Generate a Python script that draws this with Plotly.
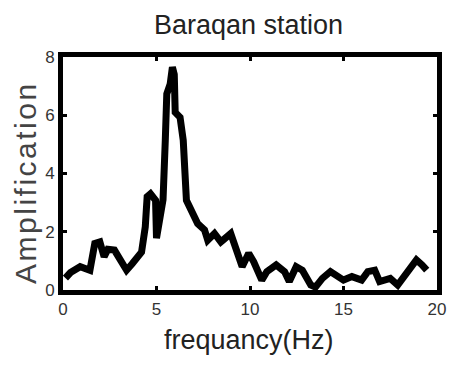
import plotly.graph_objects as go

freq = [0.13, 0.4, 0.92, 1.44, 1.7, 1.97, 2.2, 2.4, 2.75, 3.4, 3.7, 4.2, 4.4, 4.5, 4.68,
        4.95, 5.0, 5.2, 5.35, 5.47, 5.55, 5.73, 5.85, 5.95, 6.0, 6.26, 6.43, 6.6, 6.87,
        7.2, 7.57, 7.74, 8.1, 8.44, 8.97, 9.32, 9.58, 9.93, 10.2, 10.63, 10.9, 11.4,
        11.85, 12.1, 12.47, 12.8, 13.25, 13.5, 13.87, 14.3, 14.65, 15.0, 15.45, 15.97,
        16.3, 16.67, 16.93, 17.2, 17.5, 17.9, 18.3, 18.65, 18.9, 19.2, 19.45]
amp = [0.41, 0.6, 0.8, 0.68, 1.6, 1.65, 1.14, 1.4, 1.37, 0.68, 0.9, 1.3, 2.17, 3.2, 3.3,
       3.08, 1.78, 2.4, 3.1, 5.14, 6.73, 7.07, 7.65, 7.4, 6.1, 5.93, 5.14, 3.08, 2.74,
       2.28, 2.06, 1.71, 1.94, 1.65, 1.94, 1.37, 0.8, 1.26, 0.97, 0.34, 0.63, 0.86,
       0.63, 0.29, 0.8, 0.68, 0.17, 0.1, 0.4, 0.63, 0.46, 0.34, 0.46, 0.34,
       0.63, 0.68, 0.29, 0.34, 0.4, 0.17, 0.51, 0.8, 1.03, 0.86, 0.68]

x_ticks = [0, 5, 10, 15, 20]
y_ticks = [0, 2, 4, 6, 8]

title_text = "Baraqan station"
x_title = "frequancy(Hz)"
y_title = "Amplification"

FONT = "Liberation Sans, Arial, sans-serif"

fig = go.Figure()
fig.add_trace(go.Scatter(x=freq, y=amp, mode="lines",
                         line=dict(color="black", width=7),
                         hoverinfo="skip", showlegend=False))

axis_common = dict(showline=True, mirror="ticks", linecolor="black", linewidth=5,
                   ticks="inside", ticklen=4, tickwidth=3, tickcolor="black",
                   showgrid=False, zeroline=False,
                   tickfont=dict(family=FONT, size=17, color="#333333"))

fig.update_xaxes(range=[0, 20], tickvals=x_ticks, **axis_common)
fig.update_yaxes(range=[0, 8], tickvals=y_ticks, **axis_common)

fig.add_annotation(text="\u200a".join(y_title), textangle=-90,
                   xref="paper", yref="paper", x=-0.099, y=0.455,
                   xanchor="center", yanchor="middle", showarrow=False,
                   font=dict(family=FONT, size=30, color="#444444"))
fig.add_annotation(text=x_title, xref="paper", yref="paper", x=0.496, y=-0.215,
                   xanchor="center", yanchor="middle", showarrow=False,
                   font=dict(family=FONT, size=27, color="#222222"))
fig.add_annotation(text=title_text, xref="paper", yref="paper", x=0.496, y=1.137,
                   xanchor="center", yanchor="middle", showarrow=False,
                   font=dict(family=FONT, size=27, color="#222222"))

fig.update_layout(
    width=457, height=365,
    margin=dict(l=63, r=11, t=57, b=75),
    paper_bgcolor="white", plot_bgcolor="white",
)

fig.write_html("out.html")
